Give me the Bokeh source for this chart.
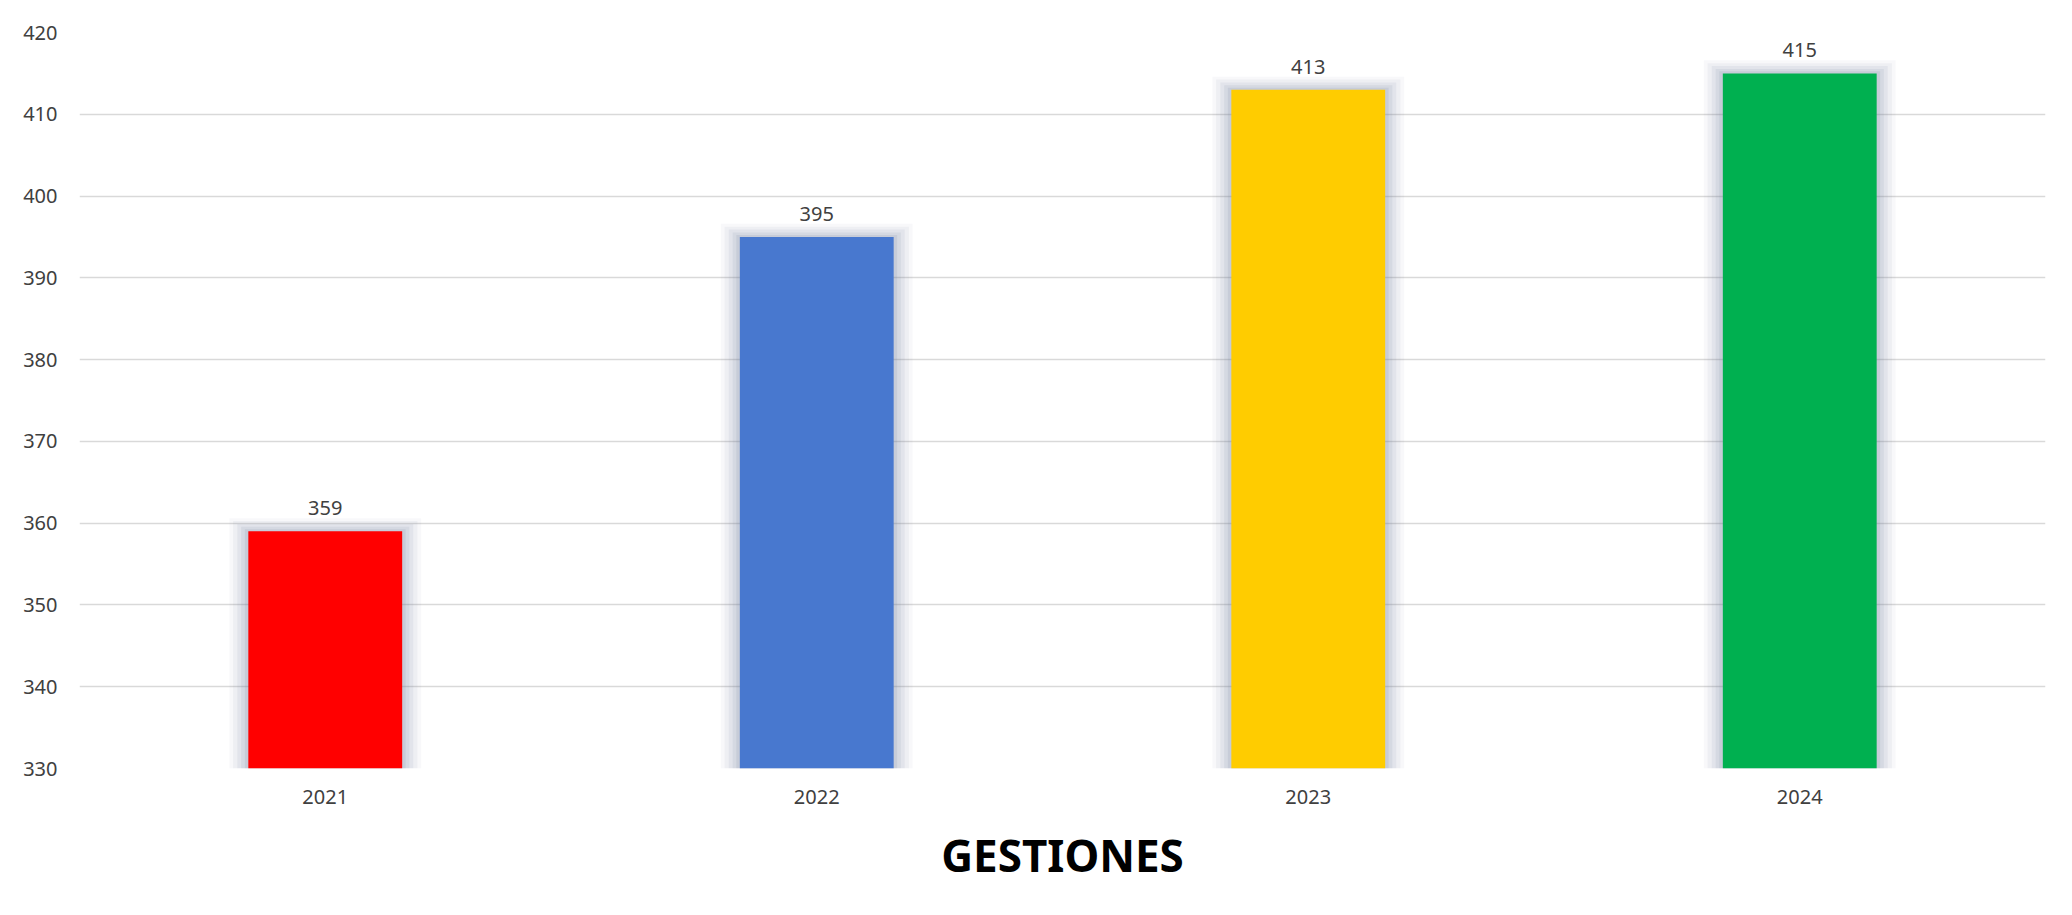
from bokeh.plotting import figure
from bokeh.models import ColumnDataSource, Range1d, FixedTicker
from bokeh.transform import dodge
from bokeh.core.properties import value
from bokeh.embed import file_html
from bokeh.resources import INLINE

years = ["2021", "2022", "2023", "2024"]
counts = [359, 395, 413, 415]
bar_colors = ["#FF0000", "#4878CF", "#FFCC00", "#00B050"]
y_ticks = [330, 340, 350, 360, 370, 380, 390, 400, 410, 420]
axis_title = "GESTIONES"

FONT = "Noto Sans"
LABEL_COLOR = "#404040"

src = ColumnDataSource(dict(x=years, top=counts, color=bar_colors,
                            label=[str(v) for v in counts]))

p = figure(x_range=years, y_range=Range1d(330, 420),
           width=2064, height=907, output_backend="svg",
           toolbar_location=None, tools="",
           min_border_left=79, min_border_top=32, min_border_right=19,
           min_border_bottom=139)
p.outline_line_color = None
p.background_fill_color = "white"
p.border_fill_color = "white"

# soft shadow glow around bars
for w, dt, a in [(0.390, 1.6, 0.05), (0.375, 1.25, 0.07), (0.358, 0.9, 0.09),
                 (0.342, 0.55, 0.11), (0.327, 0.25, 0.14)]:
    p.vbar(x="x", top=dodge("top", dt), bottom=329.6, width=w, source=src,
           fill_color="#6f7f9f", fill_alpha=a, line_color=None)

p.vbar(x="x", top="top", bottom=330, width=0.313, source=src,
       fill_color="color", line_color=None)

p.text(x="x", y="top", text="label", source=src, y_offset=-16,
       text_align="center", text_baseline="bottom",
       text_font=value(FONT), text_font_size="20px", text_color=LABEL_COLOR)

p.yaxis.ticker = FixedTicker(ticks=y_ticks)
p.ygrid.ticker = FixedTicker(ticks=y_ticks)
p.ygrid.grid_line_color = "#d9d9d9"
p.ygrid.grid_line_width = 1.5
p.xgrid.grid_line_color = None

for ax in (p.xaxis, p.yaxis):
    ax.axis_line_color = None
    ax.major_tick_line_color = None
    ax.minor_tick_line_color = None
    ax.major_label_text_font = FONT
    ax.major_label_text_font_size = "20px"
    ax.major_label_text_color = LABEL_COLOR

p.yaxis.major_label_standoff = 16
p.xaxis.major_label_standoff = 15
p.xaxis.axis_label = axis_title
p.xaxis.axis_label_text_font = FONT
p.xaxis.axis_label_text_font_size = "44px"
p.xaxis.axis_label_text_font_style = "bold"
p.xaxis.axis_label_text_color = "#000000"
p.xaxis.axis_label_standoff = 18

open("out.html", "w").write(file_html(p, INLINE))
